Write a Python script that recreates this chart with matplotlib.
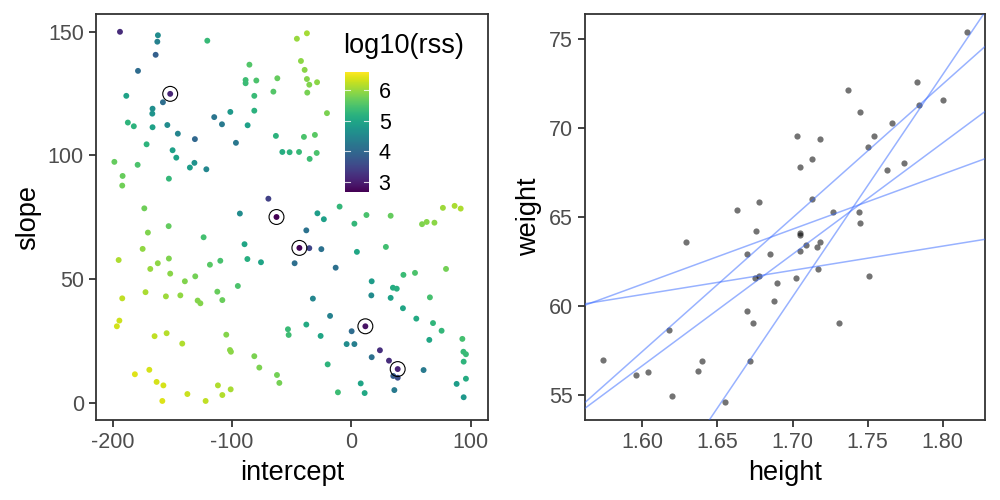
import numpy as np
import matplotlib
matplotlib.use("Agg")
import matplotlib.pyplot as plt
from matplotlib.colors import Normalize
from matplotlib import transforms

plt.rcParams['font.family'] = ['Liberation Sans', 'DejaVu Sans']
plt.rcParams['axes.unicode_minus'] = False

# ---- candidate models (left panel) ----
intercept = [
    -193.9, -162.1, -162.6, -120.7, -164.0, -178.8, -85.4, -88.6, -88.6, -79.6,
    -62.0, -65.3, -81.3, -151.8, -188.6, -157.9, -166.6, -166.8, -81.3, -101.4,
    -114.9, -108.4, -86.9, -187.3, -182.3, -166.6, -154.2, -145.4, -131.1, -96.7,
    -63.2, -171.6, -149.8, -146.7, -198.6, -179.1, -131.5, -135.3, -121.5, -191.7,
    -192.0, -152.9, -69.5,
    -45.6, -37.2, -42.2, -39.1, -37.2, -35.2, -28.7, -36.9, -20.4, -39.7,
    -30.5, -57.8, -51.7, -43.8, -34.9, -29.0,
    -173.5, -93.4, -62.7, -153.1, -170.5, -123.8, -89.5, -174.9, -195.0, -152.9,
    -87.1, -75.7, -162.2, -168.5, -118.5, -109.8, -151.8, -130.8, -139.5, -95.1,
    -192.0, -172.5, -155.4, -143.3, -128.8, -126.5, -112.3, -108.1, -194.4, -196.5,
    -164.9, -154.8, -141.7, -104.8, -101.7, -100.9, -81.3, -77.1, -62.3, -60.3,
    -181.4, -169.3, -163.2, -157.5, -158.4, -137.4, -122.1, -111.8, -108.1, -101.1,
    -53.1, -52.5, -28.4, -23.0, -9.8, 12.7, 33.0, 2.6, 76.8, 86.6,
    91.7, 59.3, 63.2, 69.7, -37.7, -43.5, -35.2, -25.1, -47.5, -13.1,
    4.7, 29.0, 43.7, 53.4, 79.4, 17.1, 16.8, 34.9, 38.1, 33.0,
    65.9, -32.2, -17.8, 43.3, 54.5, 68.5, 75.7, -37.7, -25.7, 11.8,
    0.3, -3.9, 2.6, 65.4, 93.1, 24.0, 31.6, 17.1, 38.9, 35.2,
    38.9, 60.6, 94.0, 96.1, 94.2, -19.8, 7.9, 88.3, 96.1, -11.2,
    11.2, 36.1, 94.2,
]
slope = [
    150.0, 148.6, 146.0, 146.4, 140.7, 134.2, 136.7, 130.5, 129.2, 130.3,
    131.2, 125.8, 124.1, 124.9, 124.1, 121.5, 118.9, 116.9, 118.1, 117.6,
    115.5, 112.6, 112.2, 113.3, 111.8, 111.4, 112.3, 108.8, 106.6, 105.1,
    107.9, 104.5, 102.1, 99.1, 97.4, 96.2, 97.0, 95.1, 94.4, 91.7,
    87.8, 90.6, 82.5,
    147.2, 149.4, 138.2, 134.6, 130.9, 128.6, 129.6, 125.4, 117.1, 107.5,
    108.3, 101.4, 101.3, 101.4, 98.6, 101.0,
    78.6, 76.5, 75.1, 71.4, 68.8, 66.9, 64.1, 62.2, 57.7, 58.3,
    58.1, 56.8, 56.4, 54.1, 55.8, 57.4, 52.2, 51.1, 49.1, 47.2,
    42.2, 44.7, 43.0, 43.4, 41.3, 40.2, 44.9, 41.5, 33.2, 30.9,
    26.9, 28.1, 23.9, 27.5, 21.3, 20.6, 18.8, 14.2, 11.2, 8.0,
    11.5, 13.3, 8.4, 7.0, 0.7, 3.5, 0.7, 7.0, 3.1, 5.4,
    29.7, 27.4, 76.6, 74.2, 79.3, 75.9, 75.6, 72.4, 78.8, 79.6,
    78.5, 72.2, 73.1, 72.8, 69.7, 62.6, 62.5, 62.1, 56.4, 54.6,
    61.0, 63.0, 51.7, 52.5, 54.1, 49.1, 43.4, 46.5, 46.1, 42.4,
    42.6, 42.1, 35.1, 38.2, 34.0, 32.2, 29.1, 31.6, 27.0, 30.9,
    28.9, 23.7, 23.7, 25.4, 25.8, 21.2, 17.0, 18.4, 13.6, 10.8,
    10.1, 13.2, 20.6, 19.6, 16.6, 15.5, 7.8, 7.6, 9.7, 4.2,
    3.9, 5.1, 2.2,
]

# ---- five best models (circled, and drawn as lines) ----
best_intercept = [-151.8, -62.7, -43.5, 11.8, 38.9]
best_slope = [124.9, 75.1, 62.6, 30.9, 13.6]

# ---- observed data (right panel) ----
height = [1.816, 1.783, 1.737, 1.800, 1.784, 1.745, 1.766, 1.703, 1.718, 1.754,
          1.750, 1.713, 1.705, 1.774, 1.763, 1.713, 1.727, 1.744, 1.678, 1.663,
          1.745, 1.676, 1.705, 1.705, 1.629, 1.709, 1.718, 1.716, 1.705, 1.670,
          1.685, 1.675, 1.678, 1.717, 1.690, 1.702, 1.751, 1.688, 1.670, 1.674,
          1.731, 1.618, 1.574, 1.640, 1.672, 1.596, 1.604, 1.637, 1.620, 1.655]
weight = [75.38, 72.57, 72.12, 71.61, 71.33, 70.94, 70.32, 69.59, 69.37, 69.59,
          68.92, 68.30, 67.85, 68.07, 67.68, 66.05, 65.32, 65.32, 65.83, 65.43,
          64.70, 64.25, 64.14, 64.03, 63.63, 63.47, 63.63, 63.35, 63.13, 62.91,
          62.91, 61.61, 61.72, 62.12, 61.33, 61.61, 61.72, 60.32, 59.76, 59.08,
          59.08, 58.69, 57.01, 56.95, 56.90, 56.16, 56.33, 56.39, 54.98, 54.65]

colorbar_ticks = [3, 4, 5, 6]
intercept_ticks = [-200, -100, 0, 100]
slope_ticks = [0, 50, 100, 150]
height_ticks = [1.60, 1.65, 1.70, 1.75, 1.80]
weight_ticks = [55, 60, 65, 70, 75]

# colour = log10 of residual sum of squares of each model on the data
h = np.array(height)
w = np.array(weight)
a = np.array(intercept)
b = np.array(slope)
log_rss = np.log10(((w[None, :] - (a[:, None] + b[:, None] * h[None, :])) ** 2).sum(axis=1))

AX_COL = '#333333'
TXT_COL = '#4D4D4D'
TICK_FS = 15.5
TITLE_FS = 19.5


def style(ax):
    for sp in ax.spines.values():
        sp.set_color(AX_COL)
        sp.set_linewidth(1.3)
    ax.tick_params(direction='out', length=4.8, width=1.3, color=AX_COL,
                   labelsize=TICK_FS, labelcolor=TXT_COL, pad=3.9)
    ax.xaxis.label.set_size(TITLE_FS)
    ax.yaxis.label.set_size(TITLE_FS)
    ax.xaxis.labelpad = 4.8
    ax.yaxis.labelpad = 4.8


fig = plt.figure(figsize=(10, 5), dpi=100)
ax1 = fig.add_axes([0.096, 0.16, 0.392, 0.812])
ax2 = fig.add_axes([0.585, 0.16, 0.400, 0.812])

norm = Normalize(vmin=2.69, vmax=6.60)
sc = ax1.scatter(a, b, c=log_rss, cmap='viridis', norm=norm, s=18,
                 linewidths=0, zorder=2)
ax1.scatter(best_intercept, best_slope, s=115, facecolors='none',
            edgecolors='black', linewidths=0.8, zorder=3)
ax1.set_xlim(-214.0, 114.6)
ax1.set_ylim(-7.0, 157.2)
ax1.set_xticks(intercept_ticks)
ax1.set_yticks(slope_ticks)
ax1.set_xlabel('intercept')
ax1.set_ylabel('slope')
style(ax1)

# colour bar legend inside the left panel
cax = fig.add_axes([0.345, 0.6166, 0.024, 0.24])
cb = fig.colorbar(sc, cax=cax, ticks=colorbar_ticks)
cb.outline.set_visible(False)
cax.tick_params(length=0, labelsize=TICK_FS, labelcolor='black', pad=7)
bt = transforms.blended_transform_factory(cax.transAxes, cax.transData)
for v in colorbar_ticks:
    cax.plot([0, 0.2], [v, v], color='white', lw=0.8, alpha=0.8, transform=bt)
    cax.plot([0.8, 1.0], [v, v], color='white', lw=0.8, alpha=0.8, transform=bt)
fig.text(0.343, 0.908, 'log10(rss)', fontsize=TITLE_FS, va='center', ha='left')

# right panel
ax2.scatter(h, w, s=20, color='black', alpha=0.55, linewidths=0, zorder=2)
ax2.margins(0.05)
ax2.set_xlim(ax2.get_xlim())
ax2.set_ylim(ax2.get_ylim())
for ai, bi in zip(best_intercept, best_slope):
    ax2.axline((0, ai), slope=bi, color='#3366FF', alpha=0.5, lw=1.1, zorder=3)
ax2.set_xticks(height_ticks)
ax2.set_xticklabels([f'{v:.2f}' for v in height_ticks])
ax2.set_yticks(weight_ticks)
ax2.set_xlabel('height')
ax2.set_ylabel('weight')
style(ax2)

fig.savefig('out.png', dpi=100)
